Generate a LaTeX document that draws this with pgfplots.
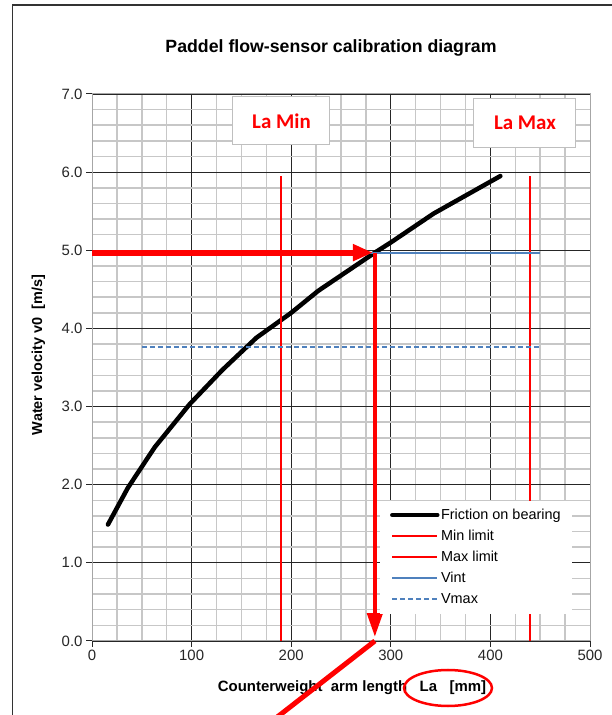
\documentclass[border=0pt]{standalone}
\usepackage{fontspec}
\setmainfont{Liberation Sans}
\newfontfamily\calibri{Carlito}
\usepackage{pgfplots}
\pgfplotsset{compat=1.18}
\usetikzlibrary{arrows.meta}
\definecolor{vblue}{HTML}{4F81BD}

\pgfplotstableread{
x y
16 1.49
36 1.96
63 2.48
98 3.03
131 3.47
165 3.88
200 4.20
227 4.48
284 4.97
300 5.10
343 5.47
410 5.95
}\friction

\begin{document}
\begin{tikzpicture}[x=1bp,y=1bp]
\useasboundingbox (0,0) rectangle (612,715);
\draw[black!80, line width=1.2bp] (12.5,-20) -- (12.5,710) -- (640,710);
\node[font=\bfseries\fontsize{17.8}{19}\selectfont] at (331,667) {Paddel flow-sensor calibration diagram};
\node[font=\bfseries\fontsize{14.5}{16}\selectfont, rotate=90] at (38.5,360) {Water velocity v0\ \ [m/s]};
\node[font=\bfseries\fontsize{15}{17}\selectfont] at (352,27) {Counterweight\ \ arm length\ \ \ La\ \ \ [mm]};
\draw[red, line width=2.5bp] (448,27) ellipse [x radius=44, y radius=18];

\begin{axis}[
 at={(92bp,74bp)}, anchor=south west,
 scale only axis, width=498bp, height=547bp,
 xmin=0,xmax=500,ymin=0,ymax=7,
 xtick={0,100,...,500}, ytick={0,1,...,7},
 minor x tick num=3, minor y tick num=4,
 grid=both,
 major grid style={black!85, line width=0.9bp},
 minor grid style={black!22, line width=1.5bp},
 axis line style={draw=black!35, line width=1bp},
 tick align=outside, xtick pos=bottom, ytick pos=left,
 major tick length=6bp, minor tick length=0pt,
 tick style={black!85, line width=1bp},
 yticklabel style={/pgf/number format/.cd, fixed, fixed zerofill, precision=1},
 ticklabel style={font=\fontsize{15}{17}\selectfont, text=black!85},
 /pgf/number format/assume math mode=true,
 clip=false,
 legend cell align=left,
 legend style={at={(axis cs:289,1.8)}, anchor=north west, draw=none, fill=white,
   font=\fontsize{14.5}{16}\selectfont, inner xsep=10bp, inner ysep=6bp,
   nodes={inner sep=1.5bp, text height=11bp, text depth=3bp}, row sep=4bp},
 legend image code/.code={\draw[#1] (0bp,0bp) -- (45bp,0bp);},
]
\addplot[black, line width=4.5bp, line cap=round] table[x=x,y=y] {\friction};
\addlegendentry{Friction on bearing}
\addplot[red, line width=1.8bp] coordinates {(190,0) (190,5.95)};
\addlegendentry{Min limit}
\addplot[red, line width=1.8bp] coordinates {(440,0) (440,5.95)};
\addlegendentry{Max limit}
\addplot[vblue, line width=2bp] coordinates {(50,4.97) (450,4.97)};
\addlegendentry{Vint}
\addplot[vblue, line width=1.8bp, dash pattern=on 5bp off 3bp] coordinates {(50,3.76) (450,3.76)};
\addlegendentry{Vmax}

\addplot[red, line width=6bp, -{Triangle[length=20bp, width=16bp]}, forget plot] coordinates {(0,4.97) (282,4.97)};
\addplot[red, line width=4.5bp, -{Triangle[length=24bp, width=15bp]}, forget plot] coordinates {(284,4.97) (284,0.05)};
\addplot[red, line width=5bp, forget plot] coordinates {(284,0) (150,-1.33)};

\node[draw=black!25, fill=white, line width=1bp, minimum width=97bp, minimum height=48bp,
  font=\calibri\bfseries\fontsize{21}{23}\selectfont, text=red] at (axis cs:190.2,6.655) {La Min};
\node[draw=black!25, fill=white, line width=1bp, minimum width=102bp, minimum height=49bp,
  font=\calibri\bfseries\fontsize{21}{23}\selectfont, text=red] at (axis cs:434.7,6.635) {La Max};
\end{axis}
\end{tikzpicture}
\end{document}
